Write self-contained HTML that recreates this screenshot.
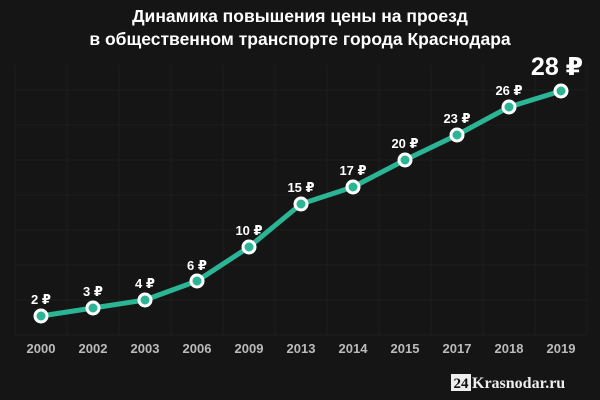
<!DOCTYPE html>
<html><head><meta charset="utf-8"><style>
body{margin:0;background:#151515;}
svg{display:block}
text{font-family:"Liberation Sans","DejaVu Sans",sans-serif;font-weight:bold}
</style></head><body>
<svg width="600" height="400" viewBox="0 0 600 400">
<rect width="600" height="400" fill="#151515"/>
<g stroke="#1d1d1d" stroke-width="1">
<path d="M15 65V335M67 65V335M119 65V335M171 65V335M223 65V335M275 65V335M327 65V335M379 65V335M431 65V335M483 65V335M535 65V335M587 65V335"/>
<path d="M15 335H587M15 300H587M15 265H587M15 230H587M15 195H587M15 160H587M15 125H587M15 90H587"/>
</g>
<text x="300" y="22" fill="#fff" font-size="17.5" text-anchor="middle">Динамика повышения цены на проезд</text>
<text x="300" y="45" fill="#fff" font-size="17.5" text-anchor="middle">в общественном транспорте города Краснодара</text>
<polyline fill="none" stroke="#2bb594" stroke-width="5" stroke-linejoin="round" points="41,316 93,308 145,300 197,281 249,247 301,204 353,187 405,160 457,135 509,107 561,91"/>
<g fill="#2bb594" stroke="#fff" stroke-width="3">
<circle cx="41" cy="316" r="6"/><circle cx="93" cy="308" r="6"/><circle cx="145" cy="300" r="6"/><circle cx="197" cy="281" r="6"/><circle cx="249" cy="247" r="6"/><circle cx="301" cy="204" r="6"/><circle cx="353" cy="187" r="6"/><circle cx="405" cy="160" r="6"/><circle cx="457" cy="135" r="6"/><circle cx="509" cy="107" r="6"/><circle cx="561" cy="91" r="6"/>
</g>
<g fill="#fff" font-size="13" text-anchor="middle">
<text x="41" y="304">2 ₽</text><text x="93" y="296">3 ₽</text><text x="145" y="288">4 ₽</text><text x="197" y="270">6 ₽</text><text x="249" y="235">10 ₽</text><text x="301" y="192">15 ₽</text><text x="353" y="175">17 ₽</text><text x="405" y="148">20 ₽</text><text x="457" y="123">23 ₽</text><text x="509" y="95">26 ₽</text>
</g>
<text x="557" y="75" fill="#fff" font-size="25" text-anchor="middle">28 ₽</text>
<g fill="#bbb" font-size="13" text-anchor="middle">
<text x="41" y="353">2000</text><text x="93" y="353">2002</text><text x="145" y="353">2003</text><text x="197" y="353">2006</text><text x="249" y="353">2009</text><text x="301" y="353">2013</text><text x="353" y="353">2014</text><text x="405" y="353">2015</text><text x="457" y="353">2017</text><text x="509" y="353">2018</text><text x="561" y="353">2019</text>
</g>
<rect x="451" y="374" width="20" height="17" fill="#eee"/>
<text x="461" y="388" fill="#111" font-size="15" text-anchor="middle" style="font-family:'Liberation Serif',serif">24</text>
<text x="472" y="388" fill="#eee" font-size="16" style="font-family:'Liberation Serif',serif">Krasnodar.ru</text>
</svg>
</body></html>
